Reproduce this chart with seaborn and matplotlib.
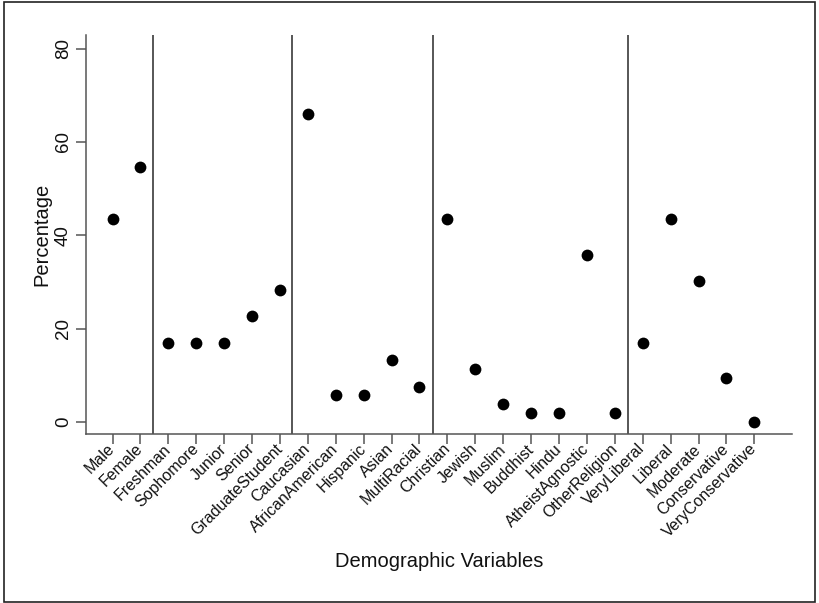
import matplotlib
matplotlib.use("Agg")
import matplotlib.pyplot as plt
import seaborn as sns
import pandas as pd
from matplotlib.patches import Rectangle

categories = ["Male", "Female", "Freshman", "Sophomore", "Junior", "Senior",
              "GraduateStudent", "Caucasian", "AfricanAmerican", "Hispanic",
              "Asian", "MultiRacial", "Christian", "Jewish", "Muslim",
              "Buddhist", "Hindu", "AtheistAgnostic", "OtherReligion",
              "VeryLiberal", "Liberal", "Moderate", "Conservative",
              "VeryConservative"]
percentages = [43.4, 54.7, 17.0, 17.0, 17.0, 22.6, 28.3, 66.0, 5.7, 5.7,
               13.2, 7.5, 43.4, 11.3, 3.8, 1.9, 1.9, 35.8, 1.9,
               17.0, 43.4, 30.2, 9.4, 0.0]
group_breaks = [1.45, 6.45, 11.47, 18.48]
y_ticks = [0, 20, 40, 60, 80]

sns.set_style("white")
plt.rcParams['font.family'] = ['Liberation Sans', 'DejaVu Sans']

df = pd.DataFrame({"pos": range(len(categories)), "pct": percentages})

fig = plt.figure(figsize=(8.19, 6.03), dpi=100)
ax = fig.add_axes([86 / 819, 1 - 434 / 603, (792 - 86) / 819, (434 - 35) / 603])

sns.scatterplot(data=df, x="pos", y="pct", ax=ax, color="black", s=72,
                edgecolor="black", linewidth=0, zorder=3, legend=False)

for b in group_breaks:
    ax.axvline(b, color="#3a3a3a", lw=1.2, zorder=1)

ax.set_xlim(-0.95, 24.35)
ax.set_ylim(-2.6, 82.9)
ax.set_xticks(range(len(categories)))
ax.set_xticklabels(categories, rotation=45, ha="right", va="center",
                   rotation_mode="anchor", fontsize=11.5, color="#111111")
ax.set_yticks(y_ticks)
ax.set_yticklabels([str(t) for t in y_ticks], rotation=90, va="center",
                   fontsize=13.5, color="#111111")
ax.tick_params(axis="both", which="major", length=7, width=1.1,
               color="#555555", direction="out", bottom=True, left=True)
ax.tick_params(axis="x", pad=2)
ax.tick_params(axis="y", pad=3)

for s in ["top", "right"]:
    ax.spines[s].set_visible(False)
for s in ["left", "bottom"]:
    ax.spines[s].set_color("#555555")
    ax.spines[s].set_linewidth(1.1)

ax.set_xlabel("Demographic Variables", fontsize=14.5, labelpad=8,
              color="#111111")
ax.set_ylabel("Percentage", fontsize=14.5, labelpad=3, color="#111111")

fig.patches.append(Rectangle((4 / 819, 1 / 603), 811 / 819, 600 / 603,
                             transform=fig.transFigure, fill=False,
                             edgecolor="#222222", lw=1.2))

fig.savefig("out.png", dpi=100, facecolor="white")
